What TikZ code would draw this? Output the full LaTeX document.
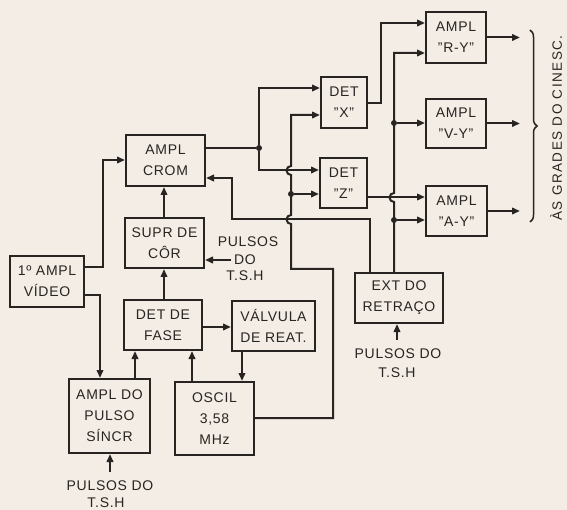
\documentclass[tikz,border=0pt]{standalone}
\usepackage{fontspec}
\setmainfont{Liberation Sans}[LetterSpace=5]
\newfontfamily\widefont{Liberation Sans}[LetterSpace=11]
\usetikzlibrary{arrows.meta,decorations.pathreplacing}
\definecolor{paper}{RGB}{243,237,229}
\definecolor{ink}{RGB}{40,36,34}
\begin{document}
\begin{tikzpicture}[x=1pt,y=-1pt,
  box/.style={draw=ink, line width=2pt, rectangle, align=center, text=ink,
    font=\fontsize{14}{21}\selectfont, inner sep=0pt},
  ln/.style={draw=ink, line width=2pt},
  arr/.style={ln, -{Triangle[length=8pt,width=6.5pt]}},
  dot/.style={circle, fill=ink, inner sep=0pt, minimum size=6pt},
  lbl/.style={text=ink, font=\fontsize{14}{18}\selectfont, inner sep=0pt, align=center}]
\fill[paper] (0,0) rectangle (567,510);

% boxes
\node[box, minimum width=79pt, minimum height=51pt] (crom) at (165.5,160.5) {AMPL\\CROM};
\node[box, minimum width=79pt, minimum height=50pt] (supr) at (164.5,243) {SUPR DE\\CÔR};
\node[box, minimum width=74pt, minimum height=51pt] (video) at (47,281.5) {1º AMPL\\VÍDEO};
\node[box, minimum width=78pt, minimum height=50pt] (fase) at (163,325) {DET DE\\FASE};
\node[box, minimum width=83pt, minimum height=50pt] (valv) at (273.5,326) {VÁLVULA\\DE REAT.};
\node[box, minimum width=81pt, minimum height=74pt] (pulso) at (109.5,416) {AMPL DO\\PULSO\\SÍNCR};
\node[box, minimum width=79pt, minimum height=73pt] (oscil) at (214.5,418.5) {OSCIL\\3,58\\MHz};
\node[box, minimum width=46pt, minimum height=51pt] (detx) at (344,102.5) {DET\\"X"};
\node[box, minimum width=47pt, minimum height=50pt] (detz) at (343.5,183) {DET\\"Z"};
\node[box, minimum width=60pt, minimum height=51pt] (ry) at (456,37.5) {AMPL\\"R-Y"};
\node[box, minimum width=60pt, minimum height=49pt] (vy) at (456,123.5) {AMPL\\"V-Y"};
\node[box, minimum width=61pt, minimum height=50pt] (ay) at (456.5,211) {AMPL\\"A-Y"};
\node[box, minimum width=88pt, minimum height=50pt] (ext) at (399,298) {EXT DO\\RETRAÇO};

% labels
\node[lbl] (p1) at (248,242) {PULSOS};
\node[lbl] (d1) at (245,260) {DO};
\node[lbl] (t1) at (245,276) {T.S.H};
\node[lbl] (p2) at (110,486) {PULSOS DO};
\node[lbl] (t2) at (106,503) {T.S.H};
\node[lbl] (p3) at (398,354) {PULSOS DO};
\node[lbl] (t3) at (397,373) {T.S.H};
\node[lbl, rotate=90, font=\widefont\fontsize{13.5}{14}\selectfont] (grades) at (556,128) {ÀS GRADES DO CINESC.};

% junctions
\node[dot] (j1) at (259,148) {};
\node[dot] (j2) at (291,194) {};
\node[dot] (j3) at (394,123) {};
\node[dot] (j4) at (394,220) {};
\coordinate (e1) at (110,472);
\coordinate (e2) at (397,340);

% left part
\draw[arr] (video.east |- 0,267) -- (103,267) |- (crom.west |- 0,160);
\draw[arr] (video.east |- 0,295) -| (pulso.north -| 100,0);
\draw[arr] (pulso.north -| 135,0) -- (fase.south -| 135,0);
\draw[arr] (oscil.north -| 192,0) -- (fase.south -| 192,0);
\draw[arr] (fase.east |- 0,327) -- (valv.west |- 0,327);
\draw[arr] (valv.south -| 242,0) -- (oscil.north -| 242,0);
\draw[arr] (fase.north -| 164,0) -- (supr.south -| 164,0);
\draw[arr] (supr.north -| 164,0) -- (crom.south -| 164,0);
\draw[arr] (d1.west) ++(-3,0) -- (supr.east |- d1.west);
\draw[arr] (e1) -- (pulso.south -| e1);
\draw[arr] (e2) -- (ext.south -| e2);

% chroma to demodulators
\draw[ln] (crom.east |- j1) -- (j1);
\draw[arr] (j1) |- (detx.west |- 0,88);
\draw[arr] (j1) |- (detz.west |- 0,170);

% oscillator to demodulators
\draw[arr] (oscil.east |- 0,418) -- (333,418) -- (333,269) -- (291,269) -- (291,224)
  arc[start angle=270, end angle=90, radius=4.5pt] -- (291,175)
  arc[start angle=270, end angle=90, radius=4.5pt] -- (291,115) -- (detx.west |- 0,115);
\draw[arr] (j2) -- (detz.west |- j2);

% retrace killer to chroma amp
\draw[arr] (ext.north -| 370,0) -- (370,219) -- (232,219) -- (232,178) -- (crom.east |- 0,178);

% retrace to colour amps
\draw[arr] (ext.north -| 394,0) -- (394,202)
  arc[start angle=270, end angle=90, radius=4.5pt] -- (394,53) -- (ry.west |- 0,53);
\draw[arr] (j3) -- (vy.west |- j3);
\draw[arr] (j4) -- (ay.west |- j4);

% demodulators to amps
\draw[arr] (detx.east |- 0,103) -- (381,103) |- (ry.west |- 0,23);
\draw[arr] (detz.east |- 0,197) -- (ay.west |- 0,197);

% outputs
\draw[arr] (ry.east) -- (ry.east -| 520,0);
\draw[arr] (vy.east) -- (vy.east -| 520,0);
\draw[arr] (ay.east) -- (ay.east -| 520,0);

% brace
\draw[ln, line width=1.5pt, decorate, decoration={brace, amplitude=7pt}] (530,30) -- (530,222);
\end{tikzpicture}
\end{document}
